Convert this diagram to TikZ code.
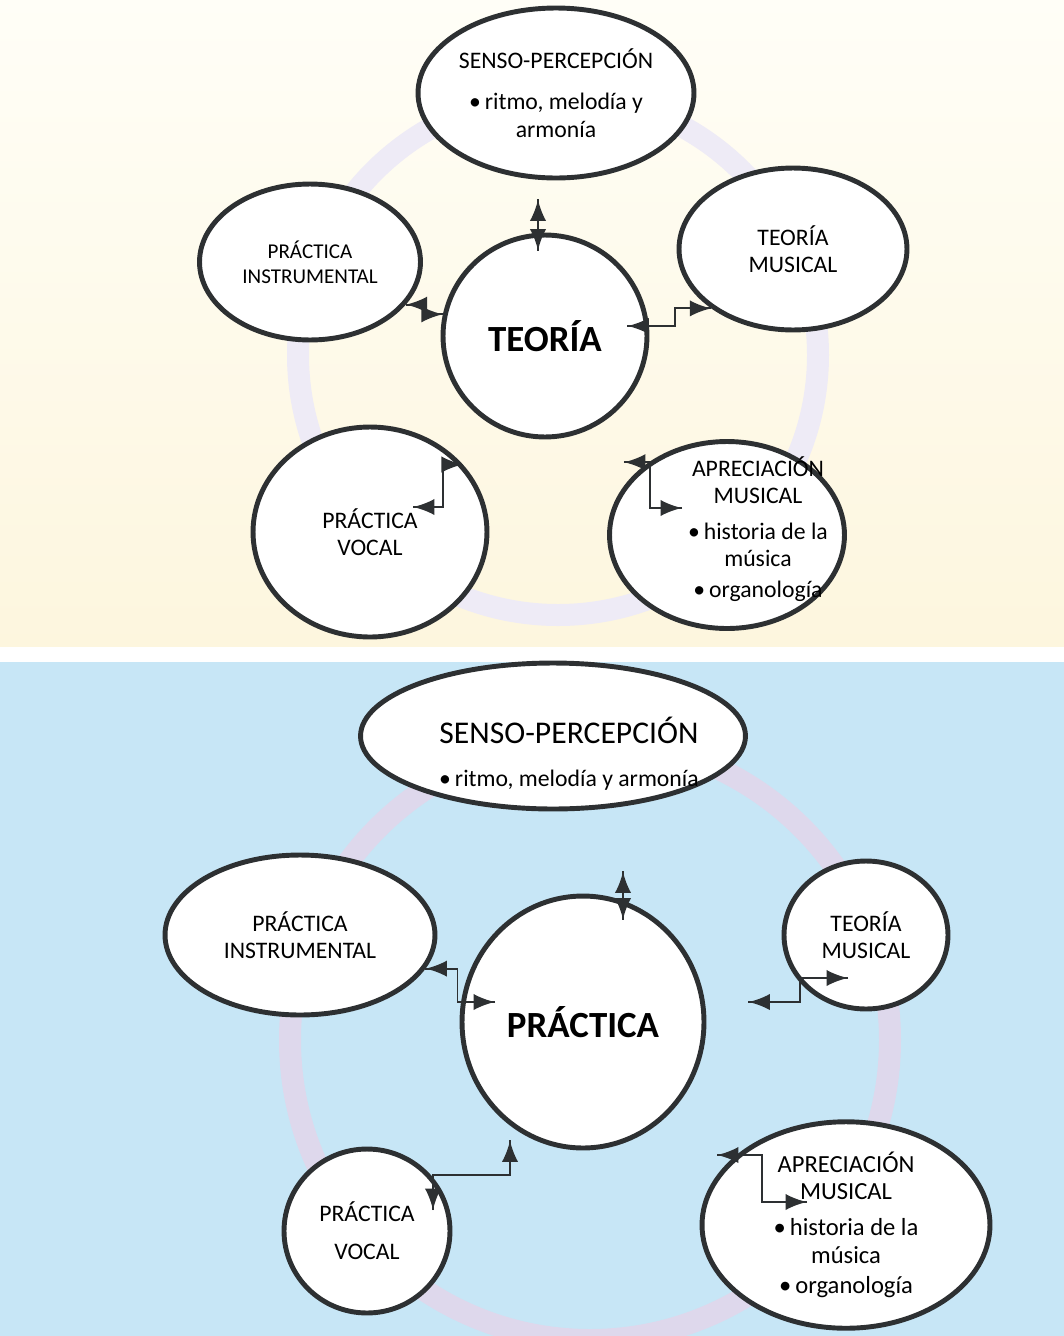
\documentclass[tikz,border=0pt]{standalone}
\usepackage{fontspec}
\setmainfont{Carlito}
\usetikzlibrary{arrows,shapes.geometric,decorations.markings}
\definecolor{edge}{RGB}{45,48,50}
\definecolor{creamtop}{RGB}{255,254,247}
\definecolor{cream}{RGB}{253,246,222}
\definecolor{sky}{RGB}{199,230,246}
\definecolor{lilac}{RGB}{238,235,246}
\definecolor{rose}{RGB}{222,216,236}
\tikzstyle{bubble} = [ellipse, draw=edge, line width=2.8pt, fill=white, inner sep=0pt, align=center, font=\fontsize{13.5}{15.5}\selectfont]
\tikzstyle{hub} = [bubble, font=\bfseries\fontsize{21}{24}\selectfont]
\tikzstyle{tag} = [inner sep=0pt, align=center, font=\fontsize{13.5}{15.5}\selectfont]

\begin{document}
\begin{tikzpicture}[x=0.02cm, y=-0.02cm]
    \tikzset{dptr/.style={draw=edge, line width=1.1pt, decoration={markings,%
    mark=at position 0 with {\arrowreversed[scale=2]{latex}},%
    mark=at position 1 with {\arrow[scale=2]{latex}}}, postaction={decorate}}}
\useasboundingbox (0,0) rectangle (1064,1336);
% backgrounds
\fill [top color=creamtop, bottom color=cream] (0,0) rectangle (1064,646);
\fill [sky] (0,662) rectangle (1064,1336);
\draw [lilac, line width=0.44cm] (558,355) circle [radius=260];
\draw [rose, line width=0.44cm] (590,1040) circle [radius=300];

% upper map: TEORIA
\node (Teo) [hub, minimum width=4.08cm, minimum height=4.04cm] at (545,336) {TEORÍA};
\node (SenTop) [bubble, minimum width=5.52cm, minimum height=3.4cm] at (556,93) {SENSO-PERCEPCIÓN\\[8pt]•\,ritmo, melodía y\\armonía};
\node (InsTop) [bubble, font=\fontsize{12}{14}\selectfont, minimum width=4.42cm, minimum height=3.12cm] at (310,262) {PRÁCTICA\\INSTRUMENTAL};
\node (MusTop) [bubble, minimum width=4.56cm, minimum height=3.24cm] at (793,249) {TEORÍA\\MUSICAL};
\node (VocTop) [bubble, minimum width=4.68cm, minimum height=4.2cm] at (370,532) {PRÁCTICA\\VOCAL};
\node (ApTop) [bubble, minimum width=4.7cm, minimum height=3.74cm,
    label={[tag, xshift=0.62cm, yshift=0.12cm]center:{APRECIACIÓN\\MUSICAL\\[5pt]•\,historia de la\\música\\[2pt]•\,organología}}] at (727,535) {};

\draw [dptr] ([shift={(-7,18)}]Teo.north) -- ([shift={(-18,19)}]SenTop.south);
\draw [dptr] (InsTop.-24) -- ++(19,0) |- (Teo.168);
\draw [dptr] ([shift={(-22,-10)}]Teo.east) -- ++(48,0) |- (MusTop.216);
\draw [dptr] ([shift={(43,-25)}]VocTop.center) -- ++(30,0) |- (VocTop.36);
\draw [dptr] ([shift={(-25,0)}]ApTop.137) -- ++(26,0) |- ([shift={(-45,-27)}]ApTop.center);

% lower map: PRACTICA
\node (Prac) [hub, minimum width=4.84cm, minimum height=5.04cm] at (583,1022) {PRÁCTICA};
\node (SenBot) [bubble, minimum width=7.7cm, minimum height=2.92cm,
    label={[tag, xshift=0.32cm, yshift=-0.36cm]center:{{\fontsize{18}{20}\selectfont SENSO-PERCEPCIÓN}\\[9pt]{\fontsize{13.5}{15}\selectfont •\,ritmo, melodía y armonía}}}] at (553,736) {};
\node (InsBot) [bubble, minimum width=5.4cm, minimum height=3.2cm] at (300,935) {PRÁCTICA\\INSTRUMENTAL};
\node (MusBot) [bubble, minimum width=3.28cm, minimum height=2.96cm] at (866,935) {TEORÍA\\MUSICAL};
\node (VocBot) [bubble, minimum width=3.32cm, minimum height=3.28cm] at (367,1231) {PRÁCTICA\\[6pt]VOCAL};
\node (ApBot) [bubble, font=\fontsize{14}{15.5}\selectfont, minimum width=5.76cm, minimum height=4.08cm] at (846,1225) {APRECIACIÓN\\MUSICAL\\[5pt]•\,historia de la\\música\\[2pt]•\,organología};

\draw [dptr] ([shift={(40,26)}]Prac.north) -- ([shift={(70,60)}]SenBot.south);
\draw [dptr] (InsBot.-15) -- ++(32,0) |- ([shift={(-88,-20)}]Prac.center);
\draw [dptr] ([shift={(42,-20)}]Prac.east) -- ++(52,0) |- ([shift={(-18,43)}]MusBot.center);
\draw [dptr] ([shift={(66,-21)}]VocBot.center) -- ++(0,-35) -| ([shift={(-73,-10)}]Prac.south);
\draw [dptr] ([shift={(-129,-70)}]ApBot.center) -- ++(45,0) |- ([shift={(-39,-23)}]ApBot.center);
\end{tikzpicture}
\end{document}
